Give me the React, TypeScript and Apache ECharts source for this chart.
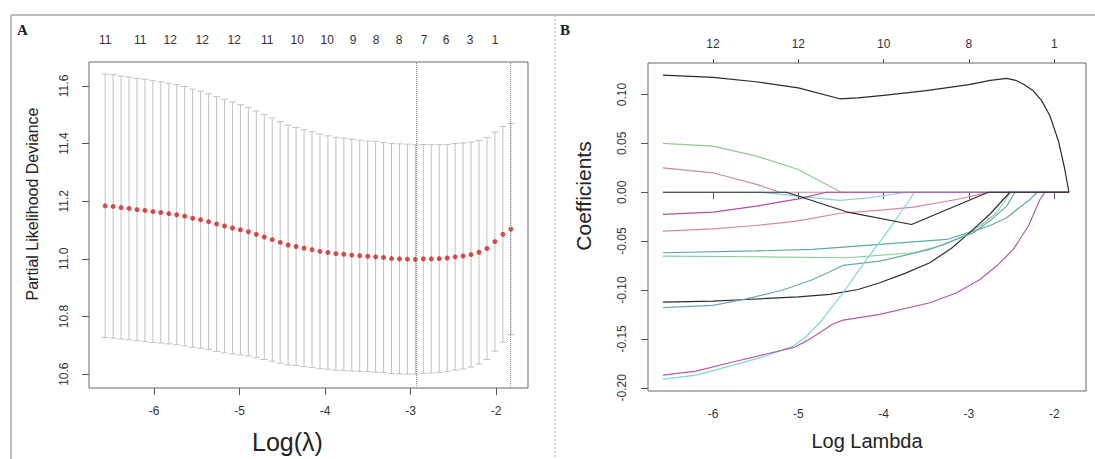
import React, { useEffect, useRef } from "react";
import * as echarts from "echarts";

// ---------- Panel A: cross-validation curve ----------
const logLambda = [
  -6.573, -6.48, -6.387, -6.294, -6.201, -6.108, -6.015, -5.922, -5.829, -5.736,
  -5.643, -5.55, -5.457, -5.363, -5.27, -5.177, -5.084, -4.991, -4.898, -4.805,
  -4.712, -4.619, -4.526, -4.433, -4.34, -4.247, -4.154, -4.061, -3.968, -3.875,
  -3.782, -3.689, -3.596, -3.503, -3.41, -3.317, -3.224, -3.131, -3.038, -2.945,
  -2.852, -2.759, -2.666, -2.573, -2.48, -2.387, -2.294, -2.201, -2.108, -2.015,
  -1.922, -1.828,
];
const cvMean = [
  11.184, 11.182, 11.178, 11.175, 11.171, 11.168, 11.164, 11.161, 11.157, 11.153,
  11.148, 11.141, 11.136, 11.129, 11.121, 11.114, 11.107, 11.101, 11.094, 11.085,
  11.076, 11.067, 11.057, 11.048, 11.043, 11.037, 11.032, 11.026, 11.022, 11.018,
  11.016, 11.013, 11.011, 11.009, 11.007, 11.005, 11.001, 11.0, 10.999, 10.998,
  11.0, 11.0, 11.001, 11.003, 11.007, 11.01, 11.015, 11.023, 11.036, 11.06,
  11.085, 11.103,
];
const cvSd = [
  0.457, 0.457, 0.456, 0.456, 0.455, 0.455, 0.454, 0.453, 0.452, 0.451,
  0.45, 0.448, 0.446, 0.444, 0.442, 0.44, 0.437, 0.434, 0.431, 0.428,
  0.425, 0.422, 0.419, 0.416, 0.413, 0.411, 0.409, 0.407, 0.405, 0.404,
  0.403, 0.402, 0.401, 0.4, 0.4, 0.399, 0.399, 0.399, 0.399, 0.398,
  0.397, 0.396, 0.395, 0.394, 0.393, 0.392, 0.39, 0.388, 0.385, 0.38,
  0.374, 0.366,
];
const lambdaMin = -2.945;
const lambda1se = -1.828;

const xTicks = [-6, -5, -4, -3, -2];
const yTicksA = [10.6, 10.8, 11.0, 11.2, 11.4, 11.6];
const topATicks = [
  -6.573, -6.164, -5.813, -5.439, -5.064, -4.678, -4.327, -3.977, -3.673, -3.404,
  -3.135, -2.842, -2.585, -2.304, -2.012,
];
const topALabels = ["11", "11", "12", "12", "12", "11", "10", "10", "9", "8", "8", "7", "6", "3", "1"];

// ---------- Panel B: coefficient paths ----------
const yTicksB = [-0.2, -0.15, -0.1, -0.05, 0, 0.05, 0.1];
const topBTicks = [-6, -5, -4, -3, -2];
const topBLabels = ["12", "12", "10", "8", "1"];

const pathBlackTop = [
  [-6.587, 0.1197], [-6.0, 0.1175], [-5.5, 0.113], [-5.0, 0.1068], [-4.514, 0.0956],
  [-4.3, 0.0965], [-4.0, 0.099], [-3.5, 0.104], [-3.0, 0.11], [-2.75, 0.1145],
  [-2.558, 0.1164], [-2.45, 0.1145], [-2.35, 0.11], [-2.25, 0.104], [-2.15, 0.094],
  [-2.05, 0.078], [-1.95, 0.052], [-1.88, 0.025], [-1.828, 0],
];
const pathBlackDip = [
  [-6.587, 0], [-5.14, 0], [-4.435, -0.02], [-3.673, -0.033], [-2.774, 0], [-1.828, 0],
];
const pathGreenTop = [
  [-6.587, 0.0499], [-6.0, 0.0471], [-5.49, 0.0369], [-5.0, 0.0233], [-4.71, 0.0097],
  [-4.494, 0], [-1.828, 0],
];
const pathMauve = [
  [-6.587, 0.025], [-6.0, 0.0199], [-5.75, 0.0141], [-5.49, 0.008], [-5.218, 0], [-1.828, 0],
];
const pathCyanDip = [
  [-6.587, 0], [-5.45, 0], [-5.0, -0.004], [-4.514, -0.0084], [-4.2, -0.006], [-3.73, 0], [-1.828, 0],
];
const pathMagentaUpper = [
  [-6.587, -0.0227], [-6.0, -0.0204], [-5.49, -0.0142], [-5.0, -0.0067], [-4.67, 0], [-1.828, 0],
];
const pathSalmon = [
  [-6.587, -0.0398], [-6.0, -0.0374], [-5.5, -0.034], [-5.02, -0.0296], [-4.51, -0.0215],
  [-4.0, -0.018], [-3.65, -0.0152], [-3.145, -0.0074], [-2.77, 0], [-1.828, 0],
];
const pathTeal1 = [
  [-6.587, -0.0619], [-5.5, -0.06], [-4.83, -0.0585], [-4.045, -0.0534], [-3.262, -0.0483],
  [-2.95, -0.0398], [-2.75, -0.034], [-2.558, -0.0261], [-2.4, -0.015], [-2.285, -0.0074],
  [-2.2, 0], [-1.828, 0],
];
const pathGreenLow = [
  [-6.587, -0.0654], [-5.5, -0.066], [-4.435, -0.067], [-3.65, -0.0619], [-3.3, -0.054],
  [-3.07, -0.0449], [-2.85, -0.033], [-2.675, -0.021], [-2.51, 0], [-1.828, 0],
];
const pathBlackLow = [
  [-6.587, -0.1124], [-6.0, -0.1114], [-5.61, -0.1097], [-5.0, -0.107], [-4.63, -0.1045],
  [-4.3, -0.0995], [-4.045, -0.0926], [-3.75, -0.083], [-3.458, -0.0721], [-3.2, -0.057],
  [-2.95, -0.038], [-2.75, -0.022], [-2.598, -0.0074], [-2.52, 0], [-1.828, 0],
];
const pathTeal2 = [
  [-6.587, -0.1181], [-6.0, -0.1158], [-5.61, -0.109], [-5.2, -0.1005], [-4.827, -0.0892],
  [-4.475, -0.0749], [-4.045, -0.0705], [-3.458, -0.0585], [-2.95, -0.0415], [-2.75, -0.029],
  [-2.558, -0.0142], [-2.46, 0], [-1.828, 0],
];
const pathCyanSteep = [
  [-6.587, -0.1915], [-6.2, -0.187], [-5.805, -0.1779], [-5.4, -0.168], [-5.06, -0.1574],
  [-4.9, -0.147], [-4.75, -0.1335], [-4.475, -0.1028], [-4.2, -0.0687], [-3.966, -0.0415],
  [-3.693, -0.0074], [-3.64, 0], [-1.828, 0],
];
const pathMagentaLow = [
  [-6.587, -0.187], [-6.2, -0.183], [-5.805, -0.1744], [-5.4, -0.166], [-5.06, -0.159],
  [-4.9, -0.152], [-4.75, -0.1437], [-4.6, -0.135], [-4.475, -0.1308], [-4.045, -0.125],
  [-3.458, -0.113], [-3.15, -0.103], [-2.87, -0.0892], [-2.67, -0.075], [-2.48, -0.0585],
  [-2.3, -0.034], [-2.168, -0.0074], [-2.11, 0], [-1.828, 0],
];

// draw order (later on top) and colours
const paths: [number[][], string][] = [
  [pathGreenTop, "#92c98e"],
  [pathMauve, "#c38aa6"],
  [pathCyanDip, "#8ad3da"],
  [pathSalmon, "#d8889a"],
  [pathTeal1, "#5fa9aa"],
  [pathGreenLow, "#8dc9a2"],
  [pathBlackLow, "#2e2e2e"],
  [pathTeal2, "#67a9b0"],
  [pathCyanSteep, "#7dd6dc"],
  [pathMagentaLow, "#b45aa6"],
  [pathMagentaUpper, "#b0509c"],
  [pathBlackDip, "#2a2a2a"],
  [pathBlackTop, "#2a2a2a"],
];

const labelFromList = (ticks: number[], labels: string[]) => (v: number) => {
  let best = 0;
  for (let i = 1; i < ticks.length; i++) {
    if (Math.abs(ticks[i] - v) < Math.abs(ticks[best] - v)) best = i;
  }
  return labels[best];
};

export default function App() {
  const ref = useRef<HTMLDivElement>(null);
  useEffect(() => {
    if (!ref.current) return;
    const chart = echarts.init(ref.current, undefined, { renderer: "svg" });
    const tickColor = "#555";
    const labelColor = "#333";
    const font = "Arial, 'Liberation Sans', sans-serif";

    const errData = logLambda.map((x, i) => [x, cvMean[i] - cvSd[i], cvMean[i] + cvSd[i]]);
    const meanData = logLambda.map((x, i) => [x, cvMean[i]]);

    const bottomX = (gridIndex: number, name: string, nameSize: number, nameGap: number, pad: number[]) => ({
      type: "value",
      gridIndex,
      position: "bottom",
      min: -6.762,
      max: -1.628,
      axisLine: { show: false },
      splitLine: { show: false },
      axisTick: { show: true, length: 7, customValues: xTicks, lineStyle: { color: tickColor } },
      axisLabel: {
        customValues: xTicks,
        margin: 17,
        fontSize: 12,
        color: labelColor,
        fontFamily: font,
        formatter: (v: number) => String(v),
      },
      name,
      nameLocation: "middle",
      nameGap,
      nameTextStyle: { fontSize: nameSize, color: "#222", fontFamily: font, padding: pad },
    });

    const option: any = {
      animation: false,
      backgroundColor: "#fff",
      grid: [
        { left: 89, top: 62, width: 439, height: 328, show: true, borderColor: "#666", borderWidth: 1, backgroundColor: "transparent" },
        { left: 648, top: 63, width: 438, height: 328, show: true, borderColor: "#666", borderWidth: 1, backgroundColor: "transparent" },
      ],
      xAxis: [
        bottomX(0, "Log(λ)", 25, 41, [0, 42, 0, 0]),
        {
          type: "value",
          gridIndex: 0,
          position: "top",
          min: -6.762,
          max: -1.628,
          axisLine: { show: false },
          splitLine: { show: false },
          axisTick: { show: false },
          axisLabel: {
            customValues: topATicks,
            margin: 16,
            fontSize: 12,
            color: labelColor,
            fontFamily: font,
            formatter: labelFromList(topATicks, topALabels),
          },
        },
        bottomX(1, "Log Lambda", 20, 40, [0, 0, 0, 0]),
        {
          type: "value",
          gridIndex: 1,
          position: "top",
          min: -6.762,
          max: -1.628,
          axisLine: { show: false },
          splitLine: { show: false },
          axisTick: { show: true, length: 4, customValues: topBTicks, lineStyle: { color: tickColor } },
          axisLabel: {
            customValues: topBTicks,
            margin: 13,
            fontSize: 12,
            color: labelColor,
            fontFamily: font,
            formatter: labelFromList(topBTicks, topBLabels),
          },
        },
      ],
      yAxis: [
        {
          type: "value",
          gridIndex: 0,
          min: 10.552,
          max: 11.683,
          axisLine: { show: false },
          splitLine: { show: false },
          axisTick: { show: true, length: 7, customValues: yTicksA, lineStyle: { color: tickColor } },
          axisLabel: {
            customValues: yTicksA,
            rotate: 90,
            margin: 19,
            fontSize: 12,
            color: labelColor,
            fontFamily: font,
            formatter: (v: number) => v.toFixed(1),
          },
          name: "Partial Likelihood Deviance",
          nameLocation: "middle",
          nameGap: 49,
          nameTextStyle: { fontSize: 16, color: "#222", fontFamily: font, padding: [0, 0, 0, 42] },
        },
        {
          type: "value",
          gridIndex: 1,
          min: -0.2033,
          max: 0.1322,
          axisLine: { show: false },
          splitLine: { show: false },
          axisTick: { show: true, length: 7, customValues: yTicksB, lineStyle: { color: tickColor } },
          axisLabel: {
            customValues: yTicksB,
            rotate: 90,
            margin: 20,
            fontSize: 12,
            color: labelColor,
            fontFamily: font,
            formatter: (v: number) => v.toFixed(2),
          },
          name: "Coefficients",
          nameLocation: "middle",
          nameGap: 54,
          nameTextStyle: { fontSize: 21, color: "#222", fontFamily: font, padding: [0, 0, 0, 62] },
        },
      ],
      series: [
        {
          type: "custom",
          xAxisIndex: 0,
          yAxisIndex: 0,
          data: errData,
          encode: { x: 0, y: [1, 2] },
          z: 1,
          silent: true,
          renderItem: (params: any, api: any) => {
            const lo = api.coord([api.value(0), api.value(1)]);
            const hi = api.coord([api.value(0), api.value(2)]);
            const w = 3.5;
            const style = { stroke: "#c2c2c2", lineWidth: 1 };
            return {
              type: "group",
              children: [
                { type: "line", shape: { x1: lo[0], y1: lo[1], x2: hi[0], y2: hi[1] }, style },
                { type: "line", shape: { x1: lo[0] - w, y1: lo[1], x2: lo[0] + w, y2: lo[1] }, style },
                { type: "line", shape: { x1: hi[0] - w, y1: hi[1], x2: hi[0] + w, y2: hi[1] }, style },
              ],
            };
          },
        },
        {
          type: "scatter",
          xAxisIndex: 0,
          yAxisIndex: 0,
          data: meanData,
          symbol: "circle",
          symbolSize: 5,
          itemStyle: { color: "#d21f1f" },
          z: 3,
          silent: true,
          markLine: {
            silent: true,
            symbol: "none",
            label: { show: false },
            lineStyle: { type: "dotted", color: "#8a8a8a", width: 1 },
            data: [{ xAxis: lambdaMin }, { xAxis: lambda1se }],
          },
        },
        ...paths.map(([d, c]) => ({
          type: "line",
          xAxisIndex: 2,
          yAxisIndex: 1,
          data: d,
          showSymbol: false,
          symbol: "none",
          silent: true,
          lineStyle: { color: c, width: 1.2 },
        })),
      ],
      graphic: [
        { type: "line", shape: { x1: 11, y1: 15, x2: 1095, y2: 15 }, style: { stroke: "#a8a8a8", lineWidth: 1.5 }, silent: true },
        { type: "line", shape: { x1: 11, y1: 15, x2: 11, y2: 459 }, style: { stroke: "#a8a8a8", lineWidth: 1.5 }, silent: true },
        { type: "line", shape: { x1: 555, y1: 15, x2: 555, y2: 459 }, style: { stroke: "#b0b0b0", lineWidth: 1, lineDash: [2, 2] }, silent: true },
        { type: "text", left: 17, top: 22, style: { text: "A", font: "bold 15px 'Liberation Serif', 'DejaVu Serif', serif", fill: "#222" }, silent: true },
        { type: "text", left: 560, top: 22, style: { text: "B", font: "bold 15px 'Liberation Serif', 'DejaVu Serif', serif", fill: "#222" }, silent: true },
      ],
    };

    chart.setOption(option);
    return () => chart.dispose();
  }, []);

  return (
    <div
      ref={ref}
      style={{ position: "fixed", left: 0, top: 0, width: 1095, height: 459, background: "#fff" }}
    />
  );
}
